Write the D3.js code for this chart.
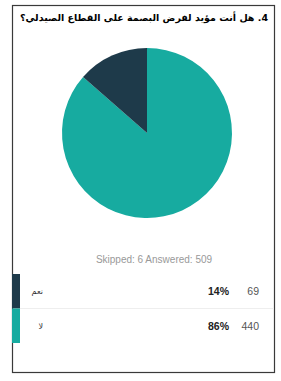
<!DOCTYPE html>
<html>
<head>
<meta charset="utf-8">
<script src="https://cdn.jsdelivr.net/npm/d3@7"></script>
</head>
<body style="margin:0">
<div id="chart"></div>
<script>
// survey answers
var title = "4. هل أنت مؤيد لفرض البصمة على القطاع الصيدلي؟";
var categories = ["نعم", "لا"];
var counts = [69, 440];
var percents = ["14%", "86%"];
var colors = ["#1e3a4a", "#17aba0"];
var skipped = 6, answered = 509;

var width = 281, height = 381;

var svg = d3.select("#chart").append("svg")
    .attr("width", width)
    .attr("height", height);

// frame
svg.append("rect")
    .attr("x", 12.5).attr("y", 5.5)
    .attr("width", 262).attr("height", 367)
    .attr("fill", "none")
    .attr("stroke", "#3a3a3a")
    .attr("stroke-width", 1.2);

// title (rtl, so "start" is the right edge)
svg.append("text")
    .attr("x", 268)
    .attr("y", 21)
    .attr("text-anchor", "start")
    .attr("direction", "rtl")
    .style("font-family", "DejaVu Sans")
    .style("font-size", "9.5px")
    .style("font-weight", "bold")
    .text(title);

// pie
var data = categories.map(function(c, i) {
    return { name: c, value: counts[i], color: colors[i] };
});

var pie = d3.pie()
    .sort(null)
    .value(function(d) { return d.value; });

var arc = d3.arc().innerRadius(0).outerRadius(85);

var pieGroup = svg.append("g")
    .attr("transform", "translate(147,133)");

pieGroup.selectAll("path")
    .data(pie(data.slice().reverse()))
    .enter().append("path")
    .attr("d", arc)
    .attr("fill", function(d) { return d.data.color; });

// skipped / answered
svg.append("text")
    .attr("x", 154)
    .attr("y", 263)
    .attr("text-anchor", "middle")
    .style("font-family", "Liberation Sans")
    .style("font-size", "10px")
    .attr("fill", "#999")
    .text("Skipped: " + skipped + "   Answered: " + answered);

// legend rows
var y = d3.scaleBand()
    .domain(categories)
    .range([274, 343]);

var rows = svg.selectAll(".row")
    .data(data)
    .enter().append("g")
    .attr("class", "row")
    .attr("transform", function(d) { return "translate(0," + y(d.name) + ")"; });

rows.append("rect")
    .attr("x", 12)
    .attr("width", 8)
    .attr("height", y.bandwidth())
    .attr("fill", function(d) { return d.color; });

rows.append("text")
    .attr("x", 43)
    .attr("y", y.bandwidth() / 2 + 3)
    .attr("text-anchor", "end")
    .style("font-family", "DejaVu Sans")
    .style("font-size", "8px")
    .attr("fill", "#333")
    .text(function(d) { return d.name; });

rows.append("text")
    .attr("x", 229)
    .attr("y", y.bandwidth() / 2 + 4)
    .attr("text-anchor", "end")
    .style("font-family", "Liberation Sans")
    .style("font-size", "10.5px")
    .style("font-weight", "bold")
    .attr("fill", "#222")
    .text(function(d, i) { return percents[i]; });

rows.append("text")
    .attr("x", 259)
    .attr("y", y.bandwidth() / 2 + 4)
    .attr("text-anchor", "end")
    .style("font-family", "Liberation Sans")
    .style("font-size", "10.5px")
    .attr("fill", "#555")
    .text(function(d) { return d.value; });

// separator line between rows
svg.append("line")
    .attr("x1", 20).attr("x2", 274)
    .attr("y1", y(categories[1])).attr("y2", y(categories[1]))
    .attr("stroke", "#eee");
</script>
</body>
</html>
